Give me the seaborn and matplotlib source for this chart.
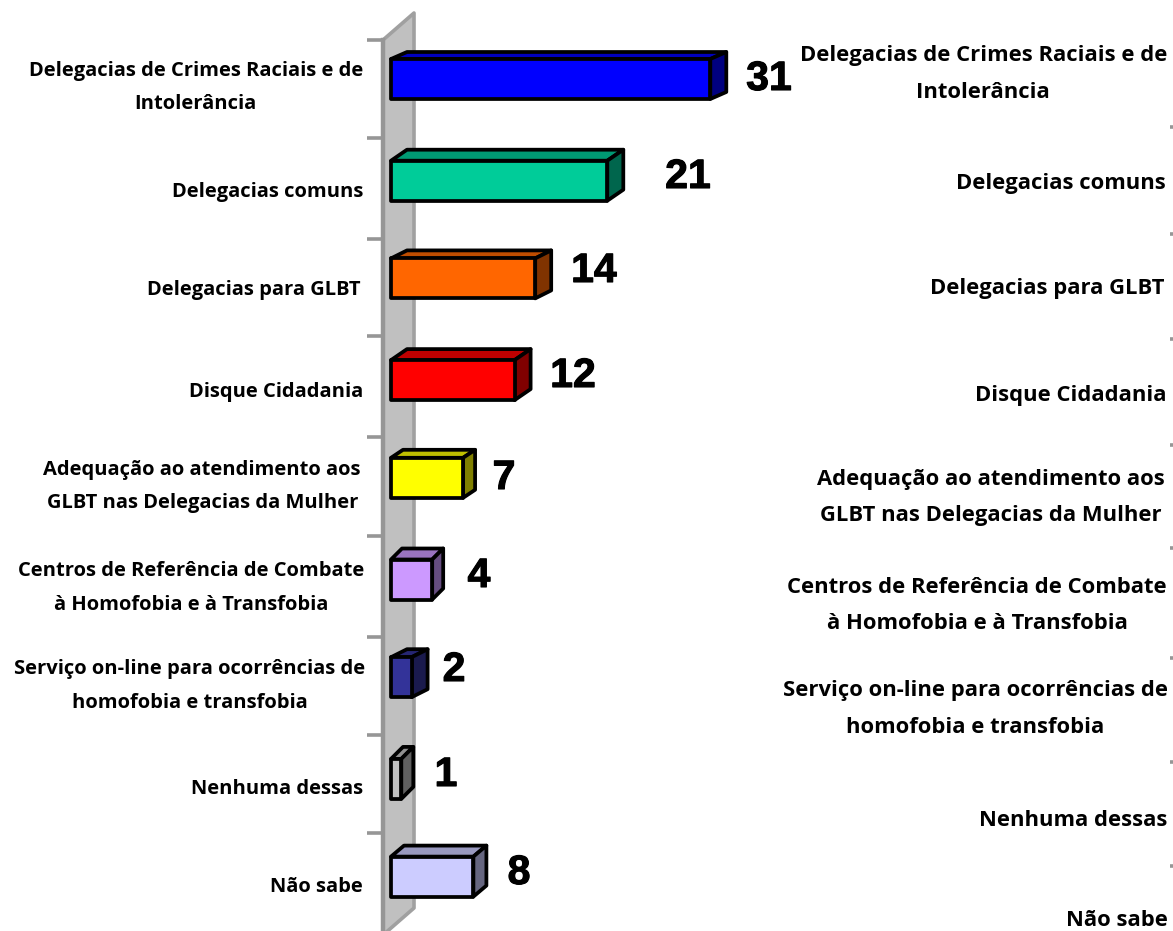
import matplotlib
matplotlib.use("Agg")
import matplotlib.pyplot as plt
from matplotlib.patches import Polygon
from matplotlib.colors import to_rgb
import matplotlib.patheffects as pe
import seaborn as sns
import pandas as pd

categories = ["Delegacias de Crimes Raciais e de\nIntolerância", "Delegacias comuns", "Delegacias para GLBT",
              "Disque Cidadania", "Adequação ao atendimento aos\nGLBT nas Delegacias da Mulher",
              "Centros de Referência de Combate\nà Homofobia e à Transfobia",
              "Serviço on-line para ocorrências de\nhomofobia e transfobia", "Nenhuma dessas", "Não sabe"]
values = [31, 21, 14, 12, 7, 4, 2, 1, 8]
colors = ["#0000FF", "#00CC99", "#FF6600", "#FF0000", "#FFFF00", "#CC99FF", "#333399", "#C0C0C0", "#CCCCFF"]

# layout, in reference pixels
W, H = 1173, 931
X0, PX_PER_UNIT = 391, 10.3
Y0, PX_PER_ROW = 79, 99.7
bar_nudge = [0, 2, 0, 2, 0, 2, 0, 2, 0]
depth_x = [16, 16, 16, 16, 12, 11, 16, 12, 13]
depth_y = [7, 11, 8, 11, 8, 11, 8, 12, 11]
value_x = [769, 688, 594, 573, 504, 479, 454, 446, 519]
value_y = [75, 173, 267, 372, 474, 572, 666, 771, 869]
left_x = [363, 363, 361, 363, 361, 364, 365, 363, 363]
left_y = [87.5, 192.5, 289.5, 391.5, 486.5, 588, 686, 789.5, 887.5]
right_x = [1167, 1166, 1165, 1167, 1165, 1167, 1168, 1167, 1168]
right_y = [74, 183.5, 288.5, 395.5, 497.5, 605.5, 709, 820.5, 921]
right_ticks = [127, 234, 339, 445, 548, 658, 762, 866]
axis_ticks = [40, 138, 239, 336, 437, 536, 637, 735, 833]

sns.set_theme(style="white")
plt.rcParams["font.family"] = ["Open Sans", "DejaVu Sans"]

fig = plt.figure(figsize=(W / 100, H / 100), dpi=100)
ax = fig.add_axes([0, 0, 1, 1])


def px(x):
    return (x - X0) / PX_PER_UNIT


def py(y):
    return (y - Y0) / PX_PER_ROW


EDGE = 2.7
df = pd.DataFrame({"categoria": categories, "valor": values})
sns.barplot(data=df, y="categoria", x="valor", hue="categoria", palette=colors, legend=False, saturation=1,
            dodge=False, width=40 / PX_PER_ROW, edgecolor="black", linewidth=EDGE, ax=ax, zorder=4)
ax.set_xlim(px(0), px(W))
ax.set_ylim(py(H), py(0))
ax.set_xlabel("")
ax.set_ylabel("")
ax.set_xticks([])
ax.set_yticks([py(t) for t in axis_ticks])
ax.set_yticklabels([])
ax.tick_params(axis="y", length=11.5, width=2.6, color="#969696", left=True)
for name, sp in ax.spines.items():
    sp.set_visible(False)
ax.spines["left"].set_visible(True)
ax.spines["left"].set_position(("data", px(383)))
ax.spines["left"].set_bounds(py(40), py(H))
ax.spines["left"].set_color("#969696")
ax.spines["left"].set_linewidth(3.2)
ax.spines["left"].set_zorder(2)

# back wall
ax.add_patch(Polygon([(px(383), py(40)), (px(414), py(13)), (px(414), py(908)), (px(383), py(935))],
                     closed=True, facecolor="#C0C0C0", edgecolor="#A0A0A0", linewidth=2.6,
                     joinstyle="round", zorder=1))

# 3D faces
bars = [c[0] for c in ax.containers]
for i, bar in enumerate(bars):
    bar.set_y(bar.get_y() + bar_nudge[i] / PX_PER_ROW)
    bar.set_joinstyle("round")
    x1 = bar.get_width()
    y_top = bar.get_y()
    y_bot = y_top + bar.get_height()
    dx = depth_x[i] / PX_PER_UNIT
    dy = depth_y[i] / PX_PER_ROW
    r, g, b = to_rgb(colors[i])
    top_col = (r * .75, g * .75, b * .75)
    side_col = (r * .5, g * .5, b * .5)
    ax.add_patch(Polygon([(0, y_top), (dx, y_top - dy), (x1 + dx, y_top - dy), (x1, y_top)], closed=True,
                         facecolor=top_col, edgecolor="black", linewidth=EDGE, joinstyle="round", zorder=3))
    ax.add_patch(Polygon([(x1, y_top), (x1 + dx, y_top - dy), (x1 + dx, y_bot - dy), (x1, y_bot)], closed=True,
                         facecolor=side_col, edgecolor="black", linewidth=EDGE, joinstyle="round", zorder=3))
    ax.text(px(value_x[i]), py(value_y[i]), str(values[i]), ha="center", va="center_baseline",
            family="Liberation Sans", weight="bold", fontsize=29.5, color="black", zorder=5,
            path_effects=[pe.withStroke(linewidth=0.8, foreground="black")])
    ax.text(px(left_x[i]), py(left_y[i]), categories[i], ha="right", va="center", multialignment="center",
            weight="bold", fontsize=14.5, color="black", linespacing=1.91, zorder=5)
    ax.text(px(right_x[i]), py(right_y[i]), categories[i], ha="right", va="center", multialignment="center",
            weight="bold", fontsize=15.8, color="black", linespacing=1.95, zorder=5)

ax.hlines([py(t) for t in right_ticks], px(1170), px(W), color="#969696", linewidth=2.6, zorder=2)

fig.savefig("out.png", dpi=100)
